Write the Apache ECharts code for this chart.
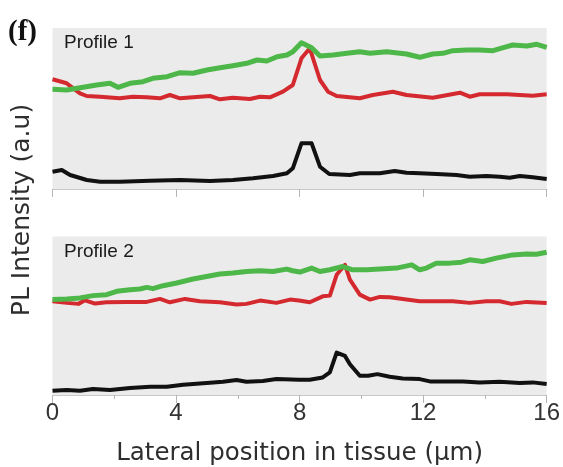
<!DOCTYPE html>
<html>
<head>
<meta charset="utf-8">
<script src="https://cdn.jsdelivr.net/npm/echarts@6/dist/echarts.min.js"></script>
<style>
  html, body { margin: 0; padding: 0; background: #fff; }
  #chart { width: 563px; height: 467px; }
</style>
</head>
<body>
<div id="chart"></div>
<script>
// x ticks (µm)
const xTicks = [0, 4, 8, 12, 16];

// Profile 1 : [position µm, intensity a.u.]
const p1Green = [[0, 99.7], [0.46, 99], [0.99, 101.7], [1.43, 104], [1.86, 105.7], [2.12, 101.7], [2.51, 105.7], [2.93, 107.3], [3.25, 110.7], [3.71, 112.3], [4.13, 116.3], [4.55, 115.7], [5.0, 119], [5.42, 121.3], [5.84, 123.3], [6.29, 125.7], [6.62, 129], [6.94, 128], [7.27, 132.3], [7.59, 134], [7.78, 137.3], [8.06, 146.3], [8.39, 141.3], [8.66, 133], [9.08, 134], [9.53, 135.7], [9.95, 137.3], [10.28, 135.7], [10.82, 137.3], [11.46, 135], [11.89, 131.7], [12.31, 135], [12.64, 135.7], [12.96, 138.3], [13.41, 139], [13.83, 139], [14.26, 138.3], [14.71, 142.3], [14.9, 144], [15.36, 143], [15.68, 144.7], [16, 141.7]];
const p1Red = [[0, 109.7], [0.46, 105.7], [0.89, 95.7], [1.11, 93], [1.54, 92.3], [2.18, 90.7], [2.6, 92.3], [3.05, 91.7], [3.48, 90.7], [3.8, 94], [4.13, 90.7], [4.55, 91.7], [5.1, 93], [5.42, 89.7], [5.84, 91.3], [6.39, 90], [6.72, 92.3], [7.04, 91.7], [7.46, 97.3], [7.78, 104], [8.06, 130.7], [8.33, 140.7], [8.66, 109], [8.92, 97.3], [9.2, 93], [9.95, 90.7], [10.37, 94], [11.02, 97.3], [11.46, 94], [12.31, 91.3], [13.19, 96.3], [13.51, 92.3], [13.83, 94.7], [14.71, 94.7], [15.55, 93.3], [16, 94.7]];
const p1Black = [[0, 17.3], [0.3, 19], [0.57, 14], [1.11, 9], [1.54, 7.3], [2.18, 7.3], [3.16, 8.3], [4.13, 9], [5.1, 8], [5.84, 9], [6.49, 10.7], [7.14, 13], [7.59, 15.7], [7.78, 20.7], [8.06, 45.7], [8.39, 45.7], [8.66, 22.3], [8.96, 15], [9.63, 14], [9.95, 15.7], [10.6, 15.7], [11.08, 18], [11.46, 16.3], [11.89, 15.7], [12.43, 15], [13.08, 14], [13.51, 12.3], [14.05, 13], [14.48, 12.3], [14.8, 11.3], [15.13, 13], [15.55, 11.7], [16, 10]];

// Profile 2
const p2Green = [[0, 96], [0.46, 96.7], [0.89, 97.7], [1.31, 100], [1.75, 101], [2.08, 104.3], [2.51, 106], [2.83, 106.7], [3.05, 108.3], [3.25, 107], [3.58, 110], [4.02, 112.7], [4.55, 116.7], [4.99, 119.3], [5.42, 121.7], [5.84, 122.7], [6.28, 124.3], [6.72, 125], [7.14, 124.3], [7.58, 126.7], [7.78, 125], [8.01, 123.7], [8.39, 127.7], [8.66, 124.3], [8.98, 126], [9.4, 129.3], [9.72, 126], [10.17, 126], [10.6, 126.7], [11.14, 127.7], [11.63, 131], [11.89, 126], [12.11, 127.7], [12.43, 132.7], [12.86, 132.7], [13.24, 133.7], [13.51, 136], [13.93, 134.3], [14.37, 137.7], [14.9, 141], [15.35, 142], [15.67, 141.7], [16, 143.7]];
const p2Red = [[0, 94.3], [0.46, 92.7], [0.84, 91.7], [1.05, 95.3], [1.38, 92], [1.75, 93.3], [2.4, 93.7], [3.05, 93.7], [3.48, 96.7], [3.8, 93.3], [4.29, 96.7], [4.77, 94.3], [5.42, 93.3], [5.96, 91], [6.28, 91.7], [6.72, 95], [7.25, 92.7], [7.69, 96], [7.98, 95], [8.33, 93.3], [8.75, 99.3], [8.98, 100], [9.2, 121], [9.47, 131], [9.63, 116], [9.95, 101], [10.28, 96], [10.6, 98.7], [10.92, 98.3], [11.34, 96.7], [11.89, 94.3], [12.43, 94.3], [12.96, 94.3], [13.51, 92.7], [14.05, 94.3], [14.48, 94.3], [14.86, 91.7], [15.35, 93.7], [16, 92.7]];
const p2Black = [[0, 4.3], [0.46, 5], [0.89, 4.3], [1.31, 6], [1.86, 5], [2.51, 7], [3.16, 8.3], [3.7, 8.3], [4.23, 10.3], [4.99, 12], [5.52, 13.3], [5.96, 15], [6.28, 13.3], [6.81, 14], [7.25, 16], [7.98, 15.3], [8.33, 15.3], [8.75, 17.7], [8.98, 22.7], [9.2, 42.7], [9.47, 39.3], [9.63, 31], [9.95, 19.3], [10.22, 19.3], [10.52, 21], [10.92, 18.3], [11.34, 16.7], [11.89, 16], [12.22, 13.7], [12.76, 13.7], [13.29, 13.7], [13.83, 12.7], [14.48, 13.3], [15.13, 12], [15.55, 12.7], [16, 11]];

const FONT = 'Liberation Sans, Arial, sans-serif';
const WIDE = '"DejaVu Sans", sans-serif';
const GREEN = '#4db849';
const RED = '#d42a2f';
const BLACK = '#111111';

const chart = echarts.init(document.getElementById('chart'));

function xAxisFor(idx, showLabels) {
  return {
    type: 'value',
    gridIndex: idx,
    min: xTicks[0],
    max: xTicks[xTicks.length - 1],
    interval: 4,
    axisLine: { show: true, lineStyle: { color: '#c8c8c8', width: 1 } },
    axisTick: { show: true, length: 8, lineStyle: { color: '#b5b5b5', width: 1 } },
    minorTick: { show: showLabels, splitNumber: 2, length: 4, lineStyle: { color: '#b5b5b5' } },
    splitLine: { show: false },
    axisLabel: { show: showLabels, fontSize: 24, color: '#333', fontFamily: FONT, margin: 6 },
    name: showLabels ? 'Lateral position in tissue (µm)' : '',
    nameLocation: 'middle',
    nameGap: 46,
    nameTextStyle: { fontSize: 24.5, color: '#2e2e2e', fontFamily: WIDE }
  };
}

function line(data, color, width, idx) {
  return {
    type: 'line',
    data: data,
    xAxisIndex: idx,
    yAxisIndex: idx,
    showSymbol: false,
    smooth: false,
    lineStyle: { color: color, width: width, join: 'round' },
    emphasis: { disabled: true },
    silent: true
  };
}

chart.setOption({
  animation: false,
  backgroundColor: '#fff',
  grid: [
    { left: 52.5, right: 16.3, top: 28, height: 161, show: true, backgroundColor: '#ebebeb', borderWidth: 0 },
    { left: 52.5, right: 16.3, top: 236.5, height: 159.5, show: true, backgroundColor: '#ebebeb', borderWidth: 0 }
  ],
  xAxis: [xAxisFor(0, false), xAxisFor(1, true)],
  yAxis: [
    { type: 'value', gridIndex: 0, min: 0, max: 161, show: false },
    { type: 'value', gridIndex: 1, min: 0, max: 159.5, show: false }
  ],
  graphic: [
    { type: 'text', left: 8, top: 18, style: { text: '(f)', font: 'bold 29px "Liberation Serif", "Times New Roman", serif', fill: '#111' } },
    { type: 'text', left: 64, top: 33, style: { text: 'Profile 1', font: '19px ' + FONT, fill: '#1a1a1a' } },
    { type: 'text', left: 64, top: 242, style: { text: 'Profile 2', font: '19px ' + FONT, fill: '#1a1a1a' } },
    { type: 'text', x: 22, y: 210, rotation: Math.PI / 2, style: { text: 'PL Intensity (a.u)', font: '25px ' + WIDE, fill: '#2e2e2e', align: 'center', verticalAlign: 'middle' } }
  ],
  series: [
    line(p1Black, BLACK, 4, 0),
    line(p1Red, RED, 4, 0),
    line(p1Green, GREEN, 5, 0),
    line(p2Black, BLACK, 4, 1),
    line(p2Red, RED, 4, 1),
    line(p2Green, GREEN, 5, 1)
  ]
});
</script>
</body>
</html>
